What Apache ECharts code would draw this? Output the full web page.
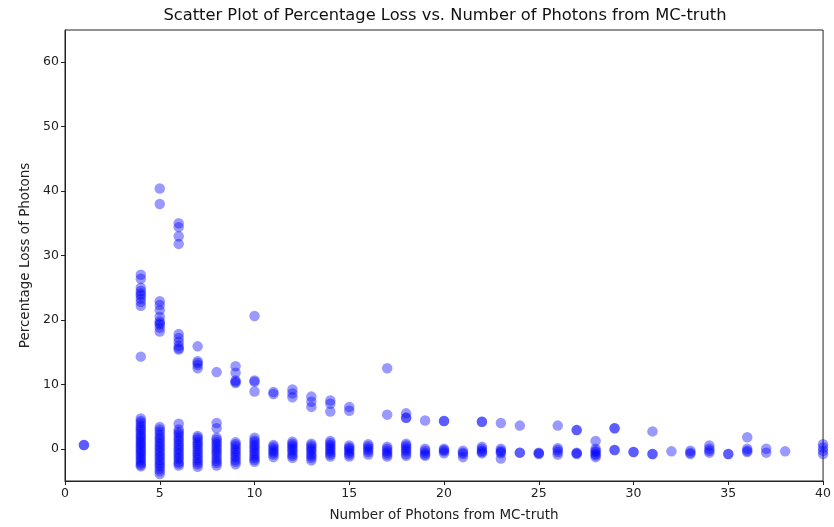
<!DOCTYPE html>
<html>
<head>
<meta charset="utf-8">
<script src="https://cdn.jsdelivr.net/npm/echarts@6/dist/echarts.min.js"></script>
<style>
html,body{margin:0;padding:0;background:#fff;}
#chart{width:834px;height:527px;}
</style>
</head>
<body>
<div id="chart"></div>
<script>
// Axis ticks
const xTicks = [0, 5, 10, 15, 20, 25, 30, 35, 40];
const yTicks = [0, 10, 20, 30, 40, 50, 60];

// Upper branch points [photons, % loss]
const upperBranch = [
  [4,27.0],[4,26.4],[4,25.0],[4,24.5],[4,24.1],[4,23.8],[4,23.3],[4,22.8],[4,22.2],[4,14.3],
  [5,40.4],[5,38.0],[5,22.9],[5,22.3],[5,21.5],[5,20.5],[5,19.8],[5,19.5],[5,19.3],[5,18.8],[5,18.2],
  [6,35.0],[6,34.4],[6,33.0],[6,31.8],[6,17.8],[6,17.2],[6,16.6],[6,16.0],[6,15.6],[6,15.4],
  [7,15.9],[7,13.6],[7,13.3],[7,13.0],[7,12.5],
  [8,11.9],
  [9,12.8],[9,11.8],[9,10.6],[9,10.4],[9,10.2],
  [10,20.6],[10,10.6],[10,10.4],[10,8.9],
  [11,8.8],[11,8.5],
  [12,9.2],[12,8.6],[12,8.0],
  [13,8.1],[13,7.3],[13,6.5],
  [14,7.5],[14,7.0],[14,5.8],
  [15,6.5],[15,5.9],
  [17,12.5],[17,5.3],
  [18,5.5],[18,4.8],[18,4.8],
  [19,4.4],[20,4.3],[20,4.3],[22,4.2],[22,4.2],[23,4.0],[24,3.6],[26,3.6],[27,2.9],[27,2.9],[28,1.2],
  [29,3.2],[29,3.2],[31,2.7],[34,0.5],[36,1.8],[37,0.0]
];

// Near-zero band points [photons, % loss]
const lowerBand = [
  [1,0.6],[1,0.6],
  [4,4.7],[4,4.3],[4,4.0],[4,3.6],[4,3.3],[4,3.0],[4,2.7],[4,2.3],[4,2.0],[4,1.7],[4,1.4],[4,1.1],[4,0.8],[4,0.5],[4,0.2],
  [4,-0.1],[4,-0.4],[4,-0.7],[4,-1.0],[4,-1.3],[4,-1.6],[4,-1.9],[4,-2.2],[4,-2.5],[4,-2.7],
  [5,3.4],[5,3.0],[5,2.6],[5,2.2],[5,1.8],[5,1.5],[5,1.1],[5,0.8],[5,0.4],[5,0.1],[5,-0.3],[5,-0.6],[5,-1.0],
  [5,-1.3],[5,-1.7],[5,-2.0],[5,-2.4],[5,-2.7],[5,-3.1],[5,-3.5],[5,-3.9],
  [6,3.9],[6,3.0],[6,2.6],[6,2.3],[6,1.9],[6,1.5],[6,1.2],[6,0.8],[6,0.5],[6,0.1],[6,-0.2],[6,-0.6],[6,-0.9],
  [6,-1.3],[6,-1.6],[6,-2.0],[6,-2.3],[6,-2.6],
  [7,2.0],[7,1.7],[7,1.4],[7,1.0],[7,0.7],[7,0.4],[7,0.0],[7,-0.3],[7,-0.7],[7,-1.0],[7,-1.4],[7,-1.7],[7,-2.1],[7,-2.4],[7,-2.8],
  [8,4.0],[8,3.2],[8,1.7],[8,1.4],[8,1.0],[8,0.7],[8,0.3],[8,0.0],[8,-0.4],[8,-0.7],[8,-1.1],[8,-1.5],[8,-1.9],[8,-2.2],[8,-2.6],
  [9,1.0],[9,0.7],[9,0.4],[9,0.0],[9,-0.3],[9,-0.6],[9,-1.0],[9,-1.3],[9,-1.7],[9,-2.0],[9,-2.4],
  [10,1.7],[10,1.3],[10,1.0],[10,0.6],[10,0.3],[10,0.0],[10,-0.4],[10,-0.7],[10,-1.1],[10,-1.4],[10,-1.7],[10,-2.0],
  [11,0.6],[11,0.3],[11,0.0],[11,-0.3],[11,-0.6],[11,-0.9],[11,-1.3],
  [12,1.1],[12,0.8],[12,0.5],[12,0.2],[12,-0.1],[12,-0.4],[12,-0.8],[12,-1.1],[12,-1.4],
  [13,0.8],[13,0.5],[13,0.2],[13,-0.1],[13,-0.4],[13,-0.8],[13,-1.1],[13,-1.4],[13,-1.8],
  [14,1.2],[14,0.9],[14,0.6],[14,0.3],[14,0.0],[14,-0.3],[14,-0.6],[14,-0.9],[14,-1.2],
  [15,0.5],[15,0.2],[15,0.0],[15,-0.3],[15,-0.6],[15,-0.9],[15,-1.2],
  [16,0.7],[16,0.4],[16,0.1],[16,-0.2],[16,-0.5],[16,-0.9],
  [17,0.3],[17,0.0],[17,-0.3],[17,-0.6],[17,-0.9],[17,-1.2],
  [18,0.8],[18,0.5],[18,0.2],[18,-0.1],[18,-0.4],[18,-0.8],[18,-1.1],
  [19,0.0],[19,-0.3],[19,-0.6],[19,-0.9],[19,-1.1],
  [20,0.0],[20,-0.2],[20,-0.4],[20,-0.7],
  [21,-0.3],[21,-0.6],[21,-0.8],[21,-1.3],
  [22,0.3],[22,0.0],[22,-0.3],[22,-0.5],[22,-0.7],
  [23,0.0],[23,-0.3],[23,-0.5],[23,-0.7],[23,-1.5],
  [24,-0.6],[24,-0.6],
  [25,-0.6],[25,-0.7],[25,-0.8],
  [26,0.1],[26,-0.2],[26,-0.5],[26,-0.9],
  [27,-0.6],[27,-0.7],[27,-0.8],
  [28,0.0],[28,-0.3],[28,-0.5],[28,-0.8],[28,-1.0],[28,-1.3],
  [29,-0.2],[29,-0.2],[30,-0.5],[30,-0.5],[31,-0.8],[31,-0.8],[32,-0.4],
  [33,-0.3],[33,-0.6],[33,-0.8],
  [34,0.0],[34,-0.3],[34,-0.6],
  [35,-0.8],[35,-0.8],
  [36,0.0],[36,-0.3],[36,-0.5],
  [37,-0.6],[38,-0.4],
  [40,0.7],[40,0.2],[40,-0.3],[40,-0.8]
];

const font = 'DejaVu Sans';
const chart = echarts.init(document.getElementById('chart'), null, {renderer: 'canvas'});
chart.setOption({
  animation: false,
  backgroundColor: '#fff',
  title: {
    text: 'Scatter Plot of Percentage Loss vs. Number of Photons from MC-truth',
    left: 440, top: 3, textAlign: 'center',
    textStyle: {fontFamily: font, fontSize: 16.3, fontWeight: 'normal', color: '#111'}
  },
  grid: {left: 65, right: 8, top: 30, bottom: 45, show: true, borderColor: '#222', borderWidth: 1, backgroundColor: 'transparent'},
  xAxis: {
    type: 'value', min: 0, max: 40, interval: 5,
    name: 'Number of Photons from MC-truth', nameLocation: 'middle', nameGap: 27,
    nameTextStyle: {fontFamily: font, fontSize: 13.5, color: '#222'},
    axisLine: {show: true, onZero: false, lineStyle: {color: '#222'}},
    axisTick: {show: true, length: 4, lineStyle: {color: '#222'}, customValues: xTicks},
    axisLabel: {fontFamily: font, fontSize: 12.5, color: '#222', margin: 6, customValues: xTicks},
    splitLine: {show: false}
  },
  yAxis: {
    type: 'value', min: -5, max: 65,
    name: 'Percentage Loss of Photons', nameLocation: 'middle', nameGap: 33, nameRotate: 90,
    nameTextStyle: {fontFamily: font, fontSize: 13.5, color: '#222'},
    axisLine: {show: true, onZero: false, lineStyle: {color: '#222'}},
    axisTick: {show: true, length: 4, lineStyle: {color: '#222'}, customValues: yTicks},
    axisLabel: {fontFamily: font, fontSize: 12.5, color: '#222', margin: 6, customValues: yTicks},
    splitLine: {show: false}
  },
  series: [{
    type: 'scatter',
    symbol: 'circle',
    symbolSize: 10.5,
    itemStyle: {color: 'rgba(0,0,255,0.5)'},
    data: upperBranch.concat(lowerBand)
  }]
});
</script>
</body>
</html>
